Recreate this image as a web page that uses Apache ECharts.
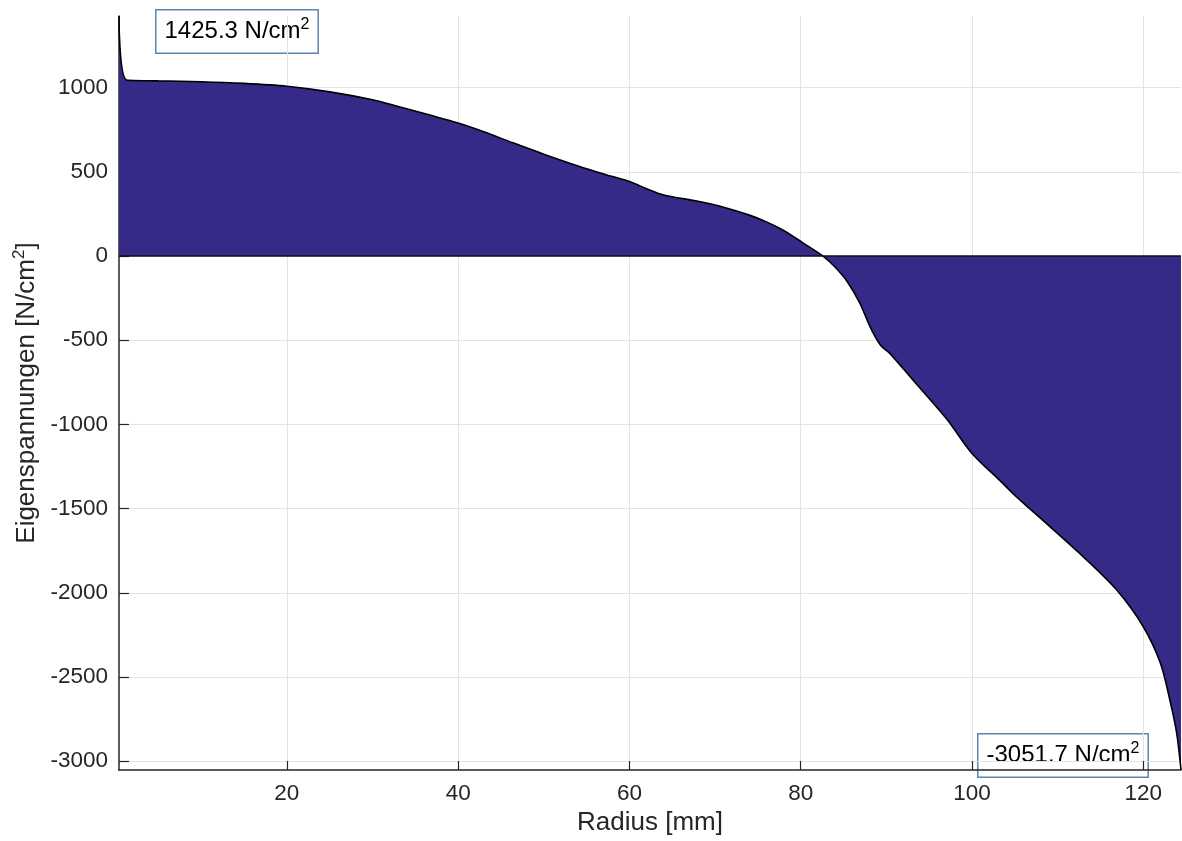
<!DOCTYPE html>
<html>
<head>
<meta charset="utf-8">
<title>Eigenspannungen</title>
<script src="https://cdn.jsdelivr.net/npm/echarts@6/dist/echarts.min.js"></script>
<style>
  html, body { margin: 0; padding: 0; background: #fff; }
  #chart { width: 1182px; height: 841px; }
</style>
</head>
<body>
<div id="chart"></div>
<script>
// Radius in mm
const radius = [0.4, 1.3, 5, 10, 15, 20, 25, 30, 33, 36.7, 40, 43, 46.4, 50, 54, 57, 60, 62,
  63.5, 65, 68, 71, 74, 76, 78, 80.3, 82.6, 84, 85.4, 86.9, 88.1, 89.3, 90.4, 93, 97, 100,
  103.3, 105.2, 109.1, 113, 116.9, 120, 122, 123.1, 123.9, 124.4];
// Eigenspannungen in N/cm^2
const stress = [1425.3, 1045, 1040, 1035, 1025, 1008, 975, 928, 888, 837, 790, 738, 672, 605, 535, 487, 442, 400,
  370, 352, 325, 290, 243, 203, 152, 77, 0, -65, -150, -280, -420, -528, -578, -730, -965, -1172,
  -1335, -1430, -1607, -1786, -1983, -2201, -2418, -2636, -2834, -3051.7];

const yMax = 1425.3;
const yMin = -3051.7;

const font = 'Liberation Sans, Arial, Helvetica, sans-serif';
const textColor = '#262626';
const gridColor = '#e3e3e3';

let chart = echarts.init(document.getElementById('chart'));

// Kurve als Punktpaare
let curve = radius.map((r, i) => [r, stress[i]]);

let boxRich = {
  a: { fontSize: 24, fontFamily: font, color: textColor, lineHeight: 30 },
  s: { fontSize: 16, fontFamily: font, color: textColor, lineHeight: 16, verticalAlign: 'top' }
};

let option = {
  animation: false,
  backgroundColor: '#fff',
  grid: {
    left: 119,
    right: 1,
    top: 16,
    bottom: 71
  },
  xAxis: {
    type: 'value',
    min: 0.4,
    max: 124.4,
    splitNumber: 6,
    name: 'Radius [mm]',
    nameLocation: 'middle',
    nameGap: 31,
    nameTextStyle: { fontSize: 26, fontFamily: font, color: textColor },
    axisLine: { show: true, onZero: false, lineStyle: { color: textColor, width: 1.5 } },
    axisTick: { show: true, inside: true, length: 9, lineStyle: { color: textColor, width: 1.2 } },
    axisLabel: { fontSize: 22.5, fontFamily: font, color: textColor, margin: 12, showMinLabel: false, showMaxLabel: false },
    splitLine: { show: true, showMinLine: false, showMaxLine: false, lineStyle: { color: gridColor, width: 1 } }
  },
  yAxis: {
    type: 'value',
    min: yMin,
    max: yMax,
    splitNumber: 9,
    name: '{a|Eigenspannungen [N/cm}{s|2}{a|]}',
    nameLocation: 'middle',
    nameGap: 76,
    nameTextStyle: {
      rich: {
        a: { fontSize: 26, fontFamily: font, color: textColor, lineHeight: 32 },
        s: { fontSize: 17, fontFamily: font, color: textColor, lineHeight: 17, verticalAlign: 'top' }
      }
    },
    axisLine: { show: true, onZero: false, lineStyle: { color: textColor, width: 1.5 } },
    axisTick: { show: true, inside: true, length: 10, lineStyle: { color: textColor, width: 1.2 } },
    axisLabel: {
      fontSize: 22.5,
      fontFamily: font,
      color: textColor,
      margin: 11,
      showMinLabel: false,
      showMaxLabel: false,
      formatter: (v) => String(v)
    },
    splitLine: { show: true, showMinLine: false, showMaxLine: false, lineStyle: { color: gridColor, width: 1 } }
  },
  series: [
    {
      type: 'line',
      data: curve,
      smooth: 0.3,
      showSymbol: false,
      lineStyle: { color: '#000', width: 1.6 },
      areaStyle: { color: '#352A87', opacity: 1 },
      markLine: {
        silent: true,
        symbol: 'none',
        label: { show: false },
        lineStyle: { color: '#111', width: 1.5, type: 'solid' },
        data: [{ yAxis: 0 }]
      }
    }
  ],
  graphic: [
    {
      type: 'text',
      left: 155,
      top: 9,
      style: {
        text: '{a|1425.3 N/cm}{s|2}',
        rich: boxRich,
        backgroundColor: '#fff',
        borderColor: '#5a87b0',
        borderWidth: 1.5,
        padding: [6, 8, 6, 8]
      }
    },
    {
      type: 'text',
      left: 977,
      top: 733,
      style: {
        text: '{a|-3051.7 N/cm}{s|2}',
        rich: boxRich,
        backgroundColor: '#fff',
        borderColor: '#5a87b0',
        borderWidth: 1.5,
        padding: [6, 8, 6, 8]
      }
    }
  ]
};

chart.setOption(option);
</script>
</body>
</html>
